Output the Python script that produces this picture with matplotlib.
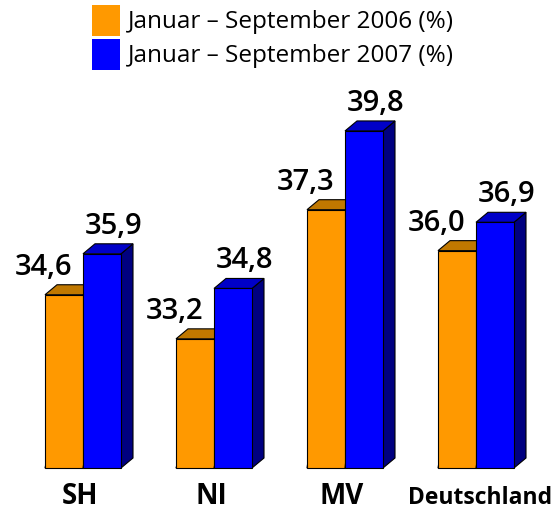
import matplotlib
matplotlib.use("Agg")
import matplotlib.pyplot as plt
from matplotlib.patches import Polygon, Rectangle

categories = ["SH", "NI", "MV", "Deutschland"]
series_names = ["Januar \u2013 September 2006 (%)", "Januar \u2013 September 2007 (%)"]
values_2006 = [34.6, 33.2, 37.3, 36.0]
values_2007 = [35.9, 34.8, 39.8, 36.9]
labels_2006 = ["34,6", "33,2", "37,3", "36,0"]
labels_2007 = ["35,9", "34,8", "39,8", "36,9"]

W, H = 558, 510
fig = plt.figure(figsize=(W / 100, H / 100), dpi=100)
ax = fig.add_axes([0, 0, 1, 1])
ax.axis("off")

px_per_x = 131.0
px_per_y = 31.5
base = 29.1
x0_px = 83.0
ax.set_xlim(-x0_px / px_per_x, (W - x0_px) / px_per_x)
ax.set_ylim(base - (H - 469) / px_per_y, base + 469 / px_per_y)

bw = 38 / px_per_x
dx = 12 / px_per_x
dy = 10 / px_per_y
font = ["Open Sans", "DejaVu Sans"]

colors = [("#FF9900", "#C07800", "#A06000"), ("#0000FF", "#0000C8", "#000080")]

def bar3d(xl, v, cols, z):
    front, top, side = cols
    ax.add_patch(Polygon([(xl, base), (xl + bw, base), (xl + bw + dx, base + dy),
                          (xl + bw + dx, v + dy), (xl + bw, v)], closed=True,
                         facecolor=side, edgecolor="black", lw=0.8, zorder=z))
    ax.add_patch(Polygon([(xl, v), (xl + bw, v), (xl + bw + dx, v + dy), (xl + dx, v + dy)],
                         closed=True, facecolor=top, edgecolor="black", lw=0.8, zorder=z))
    ax.add_patch(Rectangle((xl, base), bw, v - base, facecolor=front,
                           edgecolor="black", lw=0.8, zorder=z + 0.5))

for i, cat in enumerate(categories):
    bar3d(i - bw, values_2006[i], colors[0], 2)
    bar3d(i, values_2007[i], colors[1], 3)
    ax.text(i - bw / 2 - 20 / px_per_x, values_2006[i] + 21 / px_per_y, labels_2006[i],
            ha="center", va="baseline", fontsize=21, fontweight="semibold",
            family=font, color="black", zorder=5)
    ax.text(i + bw / 2 + 12 / px_per_x, values_2007[i] + 21 / px_per_y, labels_2007[i],
            ha="center", va="baseline", fontsize=21, fontweight="semibold",
            family=font, color="black", zorder=5)
    fs = 16.5 if cat == "Deutschland" else 20
    ax.text(i + (4 if cat == "Deutschland" else -3) / px_per_x, base - 35 / px_per_y, cat,
            ha="center", va="baseline", fontsize=fs, fontweight="bold", family=font)

# legend
for k, (name, cols) in enumerate(zip(series_names, colors)):
    top_px = 6 + 34 * k
    fig.patches.append(Rectangle((92 / W, 1 - (top_px + 31) / H), 28 / W, 31 / H,
                                 transform=fig.transFigure, facecolor=cols[0],
                                 edgecolor="none"))
    fig.text(128 / W, 1 - (top_px + 16) / H, name, ha="left", va="center",
             fontsize=17.5, family=font)

fig.savefig("out.png", dpi=100)
